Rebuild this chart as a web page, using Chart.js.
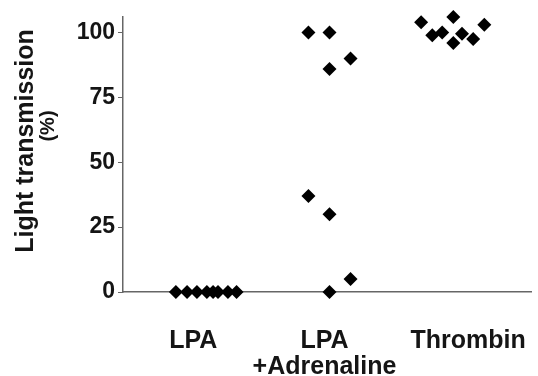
<!DOCTYPE html>
<html lang="en">
<head>
  <meta charset="UTF-8" />
  <title>Light transmission</title>
  <style>
    body { margin: 0; padding: 0; background: #fff; }
    canvas { display: block; }
  </style>
  <script src="https://cdn.jsdelivr.net/npm/chart.js"></script>
</head>
<body>
  <canvas id="chart" width="538" height="376"></canvas>

  <script>
    // categories and where their labels sit on the x scale (group centres are 1, 2, 3)
    const categories = [['LPA'], ['LPA', '+Adrenaline'], ['Thrombin']];
    const labelPos = [0.9, 1.96, 3.12];

    // values (% light transmission)
    const lpaValues = [0, 0, 0, 0, 0, 0, 0, 0];
    const adrValues = [100, 100, 86, 90, 37, 30, 5, 0];
    const thrValues = [104, 99, 100, 106, 96, 99.5, 97.5, 103];

    // horizontal scatter of the dots inside each group
    const lpaJitter = [-0.24, -0.15, -0.07, 0.01, 0.06, 0.10, 0.18, 0.25];
    const adrJitter = [-0.17, 0, 0, 0.17, -0.17, 0, 0.17, 0];
    const thrJitter = [-0.26, -0.17, -0.09, 0, 0, 0.07, 0.16, 0.25];

    const yTicks = [0, 25, 50, 75, 100];

    function toPoints(values, jitter, group) {
      return values.map((v, i) => ({ x: group + jitter[i], y: v }));
    }

    const axisColor = '#666';
    const textColor = '#151515';
    const fontFamily = "'Liberation Sans', Arial, sans-serif";

    const yTitle = {
      id: 'yTitle',
      afterDraw(chart) {
        const ctx = chart.ctx;
        ctx.save();
        ctx.fillStyle = textColor;
        ctx.font = 'bold 25px ' + fontFamily;
        ctx.textAlign = 'center';
        ctx.textBaseline = 'middle';
        ctx.translate(26, 141);
        ctx.rotate(-Math.PI / 2);
        ctx.fillText('Light transmission', 0, 0);
        ctx.restore();
        ctx.save();
        ctx.fillStyle = textColor;
        ctx.font = 'bold 20px ' + fontFamily;
        ctx.textAlign = 'center';
        ctx.textBaseline = 'middle';
        ctx.translate(48, 126);
        ctx.rotate(-Math.PI / 2);
        ctx.fillText('(%)', 0, 0);
        ctx.restore();
      }
    };

    const dotStyle = {
      pointStyle: 'rectRot',
      pointRadius: 7,
      pointHoverRadius: 7,
      backgroundColor: '#000',
      borderWidth: 0,
      clip: false
    };

    new Chart(document.getElementById('chart'), {
      type: 'scatter',
      data: {
        datasets: [
          { label: 'LPA', data: toPoints(lpaValues, lpaJitter, 1), ...dotStyle },
          { label: 'LPA +Adrenaline', data: toPoints(adrValues, adrJitter, 2), ...dotStyle },
          { label: 'Thrombin', data: toPoints(thrValues, thrJitter, 3), ...dotStyle }
        ]
      },
      options: {
        responsive: false,
        animation: false,
        layout: { padding: { top: 17, right: 4, left: 0, bottom: 0 } },
        plugins: { legend: { display: false }, tooltip: { enabled: false } },
        scales: {
          x: {
            type: 'linear',
            min: 0.333,
            max: 3.627,
            afterFit: (s) => { s.height = 84; s.paddingLeft = 0; s.paddingRight = 0; },
            afterBuildTicks: (s) => { s.ticks = labelPos.map(v => ({ value: v })); },
            grid: { display: false, drawTicks: false },
            border: { display: true, color: axisColor, width: 1.5 },
            ticks: {
              padding: 36,
              autoSkip: false,
              maxRotation: 0,
              color: textColor,
              font: { family: fontFamily, size: 25, weight: 'bold', lineHeight: 1.05 },
              callback: (v, i) => categories[i]
            }
          },
          y: {
            min: 0,
            max: 106,
            afterFit: (s) => { s.width = 123; s.paddingTop = 0; s.paddingBottom = 0; },
            afterBuildTicks: (s) => { s.ticks = yTicks.map(v => ({ value: v })); },
            grid: { drawOnChartArea: false, drawTicks: true, tickLength: 5, color: axisColor },
            border: { display: true, color: axisColor, width: 1.5 },
            ticks: {
              padding: 3,
              color: textColor,
              font: { family: fontFamily, size: 23, weight: 'bold' }
            }
          }
        }
      },
      plugins: [yTitle]
    });
  </script>
</body>
</html>
